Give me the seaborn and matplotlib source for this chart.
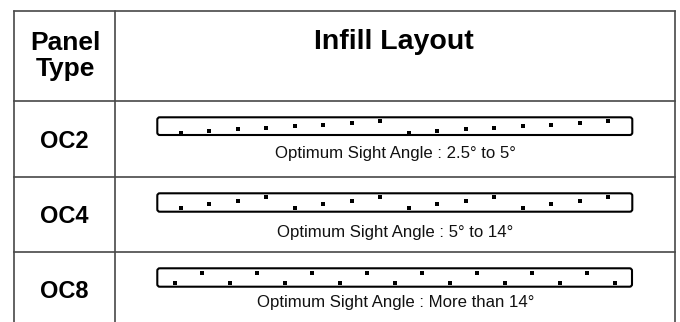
"""Infill layout table for OC panel types, redrawn with seaborn."""

import matplotlib

matplotlib.use("Agg")

import matplotlib.pyplot as plt
import pandas as pd
import seaborn as sns
from matplotlib.patches import FancyBboxPatch

# chart data
PANEL_TYPES = ["OC2", "OC4", "OC8"]
SIGHT_ANGLES = ["2.5° to 5°", "5° to 14°", "More than 14°"]

# vertical step of each infill dot along the strip (0 = lowest)
OC2_LEVELS = [0, 1, 2, 3, 4, 5, 6, 7, 0, 1, 2, 3, 4, 5, 6, 7]
OC4_LEVELS = [0, 1, 2, 3, 0, 1, 2, 3, 0, 1, 2, 3, 0, 1, 2, 3]
OC8_LEVELS = [0, 1, 0, 1, 0, 1, 0, 1, 0, 1, 0, 1, 0, 1, 0, 1, 0]
DOT_LEVELS = [OC2_LEVELS, OC4_LEVELS, OC8_LEVELS]

W, H = 680, 322
LINE_COLOR = "#484848"

# strip frame boxes in pixels (left, top, right, bottom) and axis limits
STRIP_BOXES = [(157.3, 117.3, 632.3, 135.0), (157.3, 193.3, 632.3, 211.7), (157.3, 268.3, 632.0, 286.7)]
STRIP_XLIM = [(-0.83, 15.84), (-0.83, 15.84), (-0.64, 16.62)]
STRIP_YLIM = [(-1.41, 9.46), (-1.12, 4.03), (-0.40, 1.44)]
ROW_LABEL_Y = [141, 216, 291]
CAPTION_Y = [153, 232, 302.5]

sns.set_theme(style="white")
plt.rcParams["font.family"] = ["Liberation Sans", "DejaVu Sans"]
plt.rcParams["text.color"] = "black"

fig = plt.figure(figsize=(W / 100, H / 100), dpi=100)
ax = fig.add_axes([0, 0, 1, 1])
ax.set_xlim(0, W)
ax.set_ylim(H, 0)
ax.axis("off")

# table grid
for y in [11, 101, 177, 252]:
    ax.plot([14, 675], [y, y], color=LINE_COLOR, lw=1.2, solid_capstyle="projecting")
for x in [14, 115, 675]:
    ax.plot([x, x], [11, H + 5], color=LINE_COLOR, lw=1.2)

# header
ax.text(65, 50, "Panel", ha="center", va="baseline", fontsize=19, fontweight="bold")
ax.text(65, 76, "Type", ha="center", va="baseline", fontsize=19, fontweight="bold")
ax.text(394, 49, "Infill Layout", ha="center", va="baseline", fontsize=20.5, fontweight="bold")

for i, panel in enumerate(PANEL_TYPES):
    ax.text(64, ROW_LABEL_Y[i], panel, ha="center", va="center", fontsize=17, fontweight="bold")
    ax.text(395.5, CAPTION_Y[i], f"Optimum Sight Angle : {SIGHT_ANGLES[i]}",
            ha="center", va="center", fontsize=12.1, color="#111111")

    left, top, right, bottom = STRIP_BOXES[i]
    frame = FancyBboxPatch((left, top), right - left, bottom - top,
                           boxstyle="round,pad=0,rounding_size=2.5",
                           fill=False, edgecolor="black", lw=1.5)
    ax.add_patch(frame)

    strip_ax = fig.add_axes([left / W, 1 - bottom / H, (right - left) / W, (bottom - top) / H])
    strip_ax.patch.set_alpha(0)
    dots = pd.DataFrame({"position": range(len(DOT_LEVELS[i])), "level": DOT_LEVELS[i]})
    sns.scatterplot(data=dots, x="position", y="level", marker="s", s=12,
                    color="black", linewidth=0, ax=strip_ax)
    strip_ax.set_xlim(*STRIP_XLIM[i])
    strip_ax.set_ylim(*STRIP_YLIM[i])
    strip_ax.axis("off")

fig.savefig("out.png", dpi=100)
